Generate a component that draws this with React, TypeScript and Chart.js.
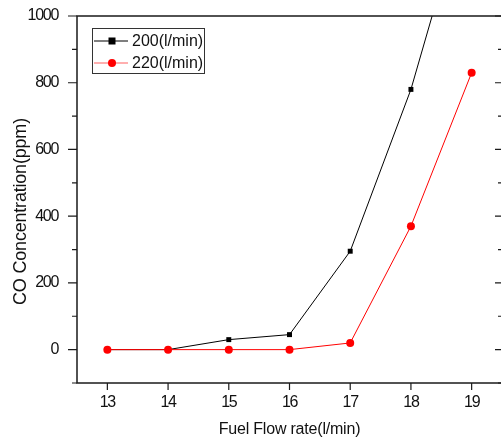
import React, { useEffect, useRef } from 'react';
import { Chart, registerables } from 'chart.js';

Chart.register(...registerables);

const flowRates = [13, 14, 15, 16, 17, 18, 19];
const co200 = [0, 0, 30, 45, 295, 780, 1410];
const co220 = [0, 0, 0, 0, 20, 370, 830];
const seriesLabels = ['200(l/min)', '220(l/min)'];
const yLabelValues = [0, 200, 400, 600, 800, 1000];
const yMinorValues = [-100, 100, 300, 500, 700, 900];
const xTitle = 'Fuel Flow rate(l/min)';
const yTitle = 'CO Concentration(ppm)';

const FONT = "'Liberation Sans', Arial, sans-serif";

const framePlugin = {
  id: 'frame',
  beforeDraw(chart: any) {
    chart.ctx.letterSpacing = '-1.3px';
  },
  beforeDatasetsDraw(chart: any) {
    chart.ctx.letterSpacing = '0px';
  },
  afterDatasetsDraw(chart: any) {
    const { ctx, chartArea: a, scales } = chart;
    const x = scales.x;
    const y = scales.y;
    ctx.save();
    ctx.letterSpacing = '0px';
    ctx.strokeStyle = '#1a1a1a';
    ctx.lineWidth = 1.5;
    ctx.strokeRect(a.left, a.top, a.right - a.left, a.bottom - a.top);
    ctx.lineWidth = 1.2;
    ctx.beginPath();
    for (const v of yLabelValues) {
      const py = y.getPixelForValue(v);
      ctx.moveTo(a.left - 9, py);
      ctx.lineTo(a.left, py);
      ctx.moveTo(a.right - 7, py);
      ctx.lineTo(a.right, py);
    }
    for (const v of yMinorValues) {
      const py = y.getPixelForValue(v);
      ctx.moveTo(a.left - 5, py);
      ctx.lineTo(a.left, py);
      ctx.moveTo(a.right - 4, py);
      ctx.lineTo(a.right, py);
    }
    for (const v of flowRates) {
      const px = x.getPixelForValue(v);
      ctx.moveTo(px, a.bottom);
      ctx.lineTo(px, a.bottom + 7);
    }
    ctx.stroke();

    // axis titles
    ctx.fillStyle = '#111111';
    ctx.save();
    ctx.translate(26, (a.top + a.bottom) / 2 + 12);
    ctx.rotate(-Math.PI / 2);
    ctx.font = `18px ${FONT}`;
    ctx.letterSpacing = '-0.2px';
    ctx.textAlign = 'center';
    ctx.textBaseline = 'alphabetic';
    ctx.fillText(yTitle, 0, 0);
    ctx.restore();

    ctx.save();
    ctx.font = `16px ${FONT}`;
    ctx.letterSpacing = '-0.2px';
    ctx.textAlign = 'center';
    ctx.textBaseline = 'middle';
    ctx.fillText(xTitle, (a.left + a.right) / 2, 430);
    ctx.restore();

    // legend
    const bx = a.left + 15;
    const by = a.top + 12;
    const bw = 112;
    const bh = 45;
    ctx.fillStyle = '#ffffff';
    ctx.fillRect(bx, by, bw, bh);
    ctx.strokeStyle = '#333333';
    ctx.lineWidth = 1;
    ctx.strokeRect(bx + 0.5, by + 0.5, bw, bh);
    const rows = [
      { label: seriesLabels[0], line: '#000000', fill: '#000000', style: 'rect' },
      { label: seriesLabels[1], line: '#ff6060', fill: '#ff0000', style: 'circle' },
    ];
    rows.forEach((r, i) => {
      const ry = by + 13 + i * 22;
      ctx.strokeStyle = r.line;
      ctx.lineWidth = 1.2;
      ctx.beginPath();
      ctx.moveTo(bx + 2, ry);
      ctx.lineTo(bx + 36, ry);
      ctx.stroke();
      ctx.fillStyle = r.fill;
      if (r.style === 'rect') {
        ctx.fillRect(bx + 20 - 3.5, ry - 3.5, 7, 7);
      } else {
        ctx.beginPath();
        ctx.arc(bx + 20, ry, 4, 0, Math.PI * 2);
        ctx.fill();
      }
      ctx.fillStyle = '#111111';
      ctx.font = `16px ${FONT}`;
      ctx.textAlign = 'left';
      ctx.textBaseline = 'middle';
      ctx.fillText(r.label, bx + 40, ry + 1);
    });
    ctx.restore();
  },
};

export default function App() {
  const ref = useRef<HTMLCanvasElement | null>(null);
  useEffect(() => {
    if (!ref.current) return;
    const chart = new Chart(ref.current, {
      type: 'line',
      data: {
        labels: flowRates,
        datasets: [
          {
            label: seriesLabels[0],
            data: flowRates.map((f, i) => ({ x: f, y: co200[i] })),
            borderColor: '#000000',
            backgroundColor: '#000000',
            borderWidth: 1,
            pointStyle: 'rect',
            pointRadius: 3.5,
            pointBorderWidth: 0,
            order: 1,
          },
          {
            label: seriesLabels[1],
            data: flowRates.map((f, i) => ({ x: f, y: co220[i] })),
            borderColor: '#ff0000',
            backgroundColor: '#ff0000',
            borderWidth: 1,
            pointStyle: 'circle',
            pointRadius: 4,
            pointBorderWidth: 0,
            order: 0,
          },
        ],
      },
      options: {
        animation: false,
        responsive: false,
        maintainAspectRatio: false,
        layout: { padding: { top: 16, right: 3, left: 0, bottom: 0 } },
        plugins: { legend: { display: false }, tooltip: { enabled: false } },
        scales: {
          x: {
            type: 'linear',
            min: 12.5,
            max: 19.5,
            afterFit: (s: any) => {
              s.height = 58;
              s.paddingLeft = 0;
              s.paddingRight = 0;
            },
            afterBuildTicks: (s: any) => {
              s.ticks = flowRates.map((v) => ({ value: v }));
            },
            grid: { display: false },
            border: { display: false },
            ticks: {
              autoSkip: false,
              maxRotation: 0,
              font: { family: FONT, size: 16 },
              color: '#111111',
              padding: 2,
              callback: (v: any) => String(v),
            },
          },
          y: {
            type: 'linear',
            min: -100,
            max: 1000,
            afterFit: (s: any) => {
              s.width = 77;
              s.paddingTop = 0;
              s.paddingBottom = 0;
            },
            afterBuildTicks: (s: any) => {
              s.ticks = yLabelValues.map((v) => ({ value: v }));
            },
            grid: { display: false },
            border: { display: false },
            ticks: {
              autoSkip: false,
              font: { family: FONT, size: 16 },
              color: '#111111',
              padding: 11,
              callback: (v: any) => String(v),
            },
          },
        },
      },
      plugins: [framePlugin],
    });
    return () => chart.destroy();
  }, []);
  return (
    <div
      style={{
        position: 'absolute',
        left: 0,
        top: 0,
        width: 501,
        height: 441,
        overflow: 'hidden',
        background: '#ffffff',
      }}
    >
      <canvas ref={ref} width={506} height={441} style={{ display: 'block' }} />
    </div>
  );
}
